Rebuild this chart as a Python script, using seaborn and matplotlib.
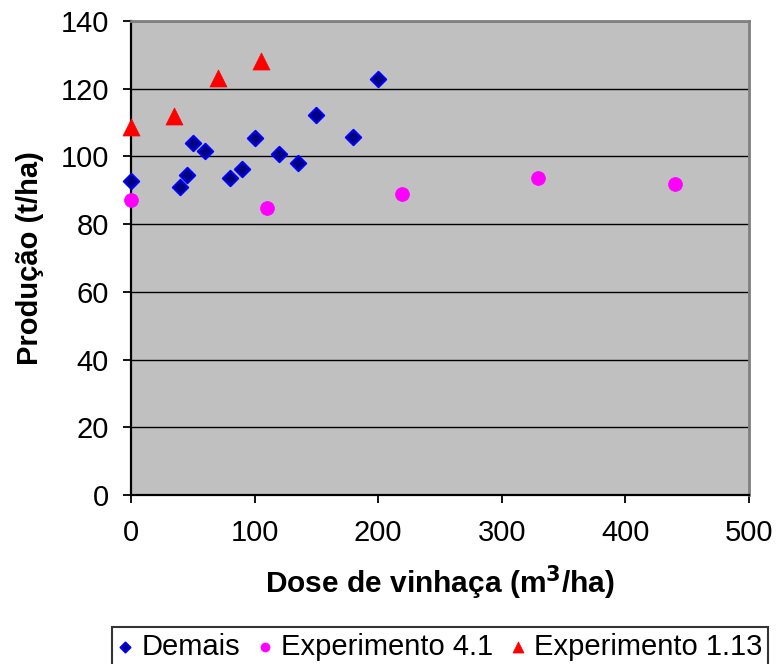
import matplotlib
matplotlib.use("Agg")
import matplotlib.pyplot as plt
import seaborn as sns
import pandas as pd

# Data
demais_x = [0, 40, 45, 50, 60, 80, 90, 100, 120, 135, 150, 180, 200]
demais_y = [92.8, 91.0, 94.6, 104.0, 101.5, 93.5, 96.4, 105.4, 100.8, 98.0, 112.3, 105.8, 122.9]

exp41_x = [0, 110, 219, 329, 440]
exp41_y = [87.2, 84.8, 89.0, 93.7, 91.9]

exp113_x = [0, 35, 70, 105]
exp113_y = [108.6, 111.9, 123.1, 128.2]

series_names = ["Demais", "Experimento 4.1", "Experimento 1.13"]
x_ticks = [0, 100, 200, 300, 400, 500]
y_ticks = [0, 20, 40, 60, 80, 100, 120, 140]

sns.set_theme(style="white")
plt.rcParams["font.family"] = ["Liberation Sans", "DejaVu Sans"]
plt.rcParams["text.color"] = "black"
plt.rcParams["axes.labelcolor"] = "black"
plt.rcParams["xtick.color"] = "black"
plt.rcParams["ytick.color"] = "black"

fig = plt.figure(figsize=(7.78, 6.64), dpi=100)
ax = fig.add_axes([131 / 778, 1 - 495 / 664, (749 - 131) / 778, (495 - 21) / 664])
ax.set_facecolor("#C0C0C0")

df_d = pd.DataFrame({"x": demais_x, "y": demais_y})
df_m = pd.DataFrame({"x": exp41_x, "y": exp41_y})
df_r = pd.DataFrame({"x": exp113_x, "y": exp113_y})

sns.scatterplot(data=df_d, x="x", y="y", ax=ax, marker="D", s=62, color="#000080",
                edgecolor="#0000FF", linewidth=1.4, label=series_names[0], zorder=3, clip_on=False)
sns.scatterplot(data=df_m, x="x", y="y", ax=ax, marker="o", s=100, color="#FF00FF",
                edgecolor="#FF00FF", linewidth=0.5, label=series_names[1], zorder=3, clip_on=False)
sns.scatterplot(data=df_r, x="x", y="y", ax=ax, marker="^", s=150, color="#FF0000",
                edgecolor="#FF0000", linewidth=0.5, label=series_names[2], zorder=3, clip_on=False)

ax.set_xlim(0, 500)
ax.set_ylim(0, 140)
ax.set_xticks(x_ticks)
ax.set_yticks(y_ticks)
ax.yaxis.grid(True, color="black", linewidth=1.0)
ax.xaxis.grid(False)
ax.set_axisbelow(True)

for side in ["left", "bottom"]:
    ax.spines[side].set_color("black")
    ax.spines[side].set_linewidth(1.6)
for side in ["top", "right"]:
    ax.spines[side].set_color("#808080")
    ax.spines[side].set_linewidth(2.0)

ax.tick_params(axis="both", which="major", direction="out", length=6, width=1.3,
               color="black", labelsize=21, labelcolor="black", left=True, bottom=True)
ax.tick_params(axis="x", pad=11)
ax.tick_params(axis="y", pad=10)

ax.set_xlabel("Dose de vinhaça (m$^\\mathbf{3}$/ha)", fontsize=21.5, fontweight="bold",
              labelpad=12, color="black")
ax.set_ylabel("Produção (t/ha)", fontsize=21, fontweight="bold", labelpad=12, color="black")

leg = ax.legend(loc="lower center", bbox_to_anchor=(440 / 778, -0.004), bbox_transform=fig.transFigure,
                ncol=3, frameon=True, fancybox=False, edgecolor="black", facecolor="white",
                fontsize=21, markerscale=0.65, handlelength=0.5, handletextpad=0.3,
                columnspacing=0.6, borderpad=0.2, borderaxespad=0.0)
leg.get_frame().set_linewidth(1.5)
for t in leg.get_texts():
    t.set_color("black")

fig.savefig("out.png", dpi=100)
